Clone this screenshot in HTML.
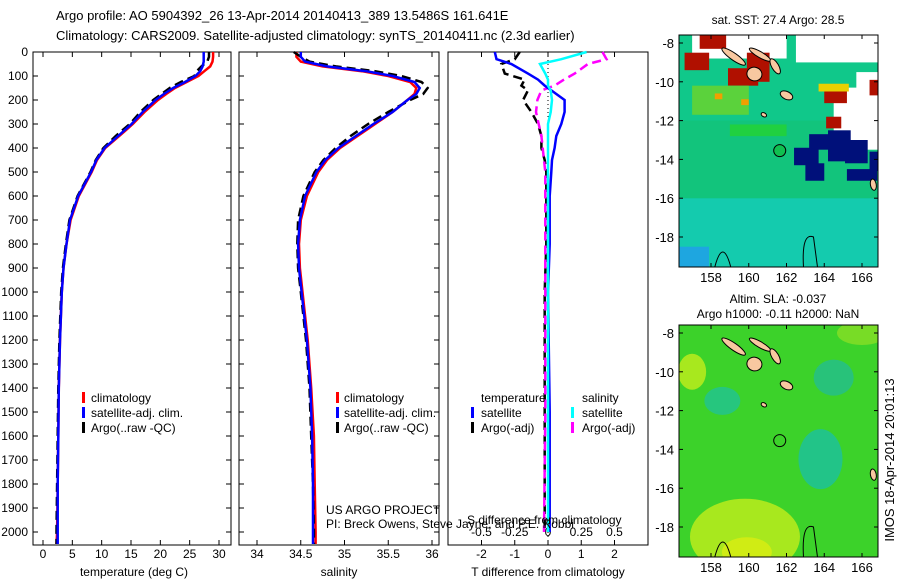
<!DOCTYPE html>
<html><head><meta charset="utf-8"><style>
body{margin:0;background:#fff;}
svg{display:block;font-family:"Liberation Sans",sans-serif;}
text{font-size:12px;fill:#000;}
</style></head><body>
<svg id="fig" width="900" height="580" viewBox="0 0 900 580">
<defs>
<clipPath id="clip35"><rect x="679" y="35" width="199" height="232"/></clipPath>
<clipPath id="clip325"><rect x="679" y="325" width="199" height="232"/></clipPath>
</defs>
<text x="56" y="20" style="font-size:13px">Argo profile: AO 5904392_26 13-Apr-2014 20140413_389 13.5486S 161.641E</text>
<text x="56" y="40" style="font-size:13px">Climatology: CARS2009. Satellite-adjusted climatology: synTS_20140411.nc (2.3d earlier)</text>
<g id="maps"></g>
<g id="plots"></g>
</svg>
<script>
// ---------- data ----------
const depthsTS = [0,20,40,60,80,100,125,150,175,200,250,300,350,400,450,500,600,700,800,900,1000,1200,1400,1600,1800,2000,2050];
const climT = [29.0,29.0,28.9,28.5,27.5,26.5,24.5,22.5,21.0,19.6,17.3,15.3,13.0,10.6,9.2,8.3,6.1,4.7,4.0,3.5,3.2,2.9,2.7,2.6,2.5,2.4,2.3];
const satT  = [27.4,27.4,27.4,27.2,26.8,26.0,24.2,22.2,20.6,19.2,17.0,15.1,12.8,10.5,9.1,8.2,6.0,4.6,4.0,3.5,3.2,2.9,2.7,2.6,2.5,2.5,2.5];
const argoT = [28.3,28.3,28.0,27.0,26.2,25.8,23.5,21.6,20.2,18.8,16.6,14.8,12.4,10.3,9.0,8.1,5.9,4.5,3.9,3.4,3.1,2.8,2.6,2.5,2.4,2.3,2.3];
const climS = [34.45,34.45,34.5,34.75,35.2,35.5,35.75,35.82,35.8,35.72,35.55,35.35,35.15,34.95,34.8,34.7,34.57,34.5,34.48,34.49,34.52,34.58,34.62,34.65,34.66,34.67,34.67];
const satS  = [34.5,34.5,34.55,34.8,35.25,35.55,35.8,35.86,35.82,35.72,35.55,35.33,35.13,34.93,34.78,34.68,34.55,34.49,34.47,34.48,34.51,34.57,34.61,34.63,34.64,34.64,34.64];
const argoS = [34.42,34.5,34.6,34.9,35.35,35.65,35.88,35.95,35.9,35.75,35.5,35.27,35.07,34.9,34.76,34.66,34.53,34.47,34.46,34.47,34.5,34.56,34.6,34.62,34.64,34.65,34.65];
const depthsD = [0,30,50,90,115,140,160,200,250,300,350,400,450,500,600,800,1000,1500,2000];
const satTdiff  = [-1.6,-1.55,-1.1,-0.6,-0.3,-0.1,0.1,0.5,0.5,0.4,0.25,0.2,0.12,0.1,0.05,0.05,0.0,0.05,0.05];
const argoTdiff = [-0.85,-1.0,-1.4,-1.3,-0.7,-0.8,-0.6,-0.75,-0.5,-0.3,-0.2,-0.2,-0.1,-0.05,-0.05,-0.05,-0.1,-0.1,-0.1];
const satSdiff  = [0.29,0.1,-0.06,-0.02,0.0,0.0,0.02,0.03,0.02,0.0,0.0,0.0,0.0,0.0,0.0,0.0,0.0,0.0,0.0];
const argoSdiff = [0.41,0.44,0.3,0.2,0.12,0.05,-0.05,-0.08,-0.09,-0.07,-0.05,-0.04,-0.03,-0.02,-0.02,-0.02,-0.02,-0.02,-0.03];
const depthTicks = [0,100,200,300,400,500,600,700,800,900,1000,1100,1200,1300,1400,1500,1600,1700,1800,1900,2000];
const tTicks = [0,5,10,15,20,25,30];
const sTicks = [34,34.5,35,35.5,36];
const tdTicks = [-2,-1,0,1,2];
const sdTicks = [-0.5,-0.25,0,0.25,0.5];
const lonTicks = [158,160,162,164,166];
const latTicks = [-8,-10,-12,-14,-16,-18];
const argoLon = 161.641, argoLat = -13.5486;

const NS="http://www.w3.org/2000/svg";
function mk(tag,attrs,parent){const e=document.createElementNS(NS,tag);for(const k in attrs)e.setAttribute(k,attrs[k]);parent.appendChild(e);return e;}
const plots=document.getElementById('plots');
const maps=document.getElementById('maps');

const Y0=52, Y1=545, yD=d=>Y0+d*0.24;
function lin(d0,d1,r0,r1){return v=>r0+(v-d0)*(r1-r0)/(d1-d0);}
const xT=lin(0,30,43,219), xS=lin(34,36,257,432), xTd=lin(-2,2,481.5,614.5), xSd=lin(-0.5,0.5,481.5,614.5);

function frame(x0,x1,name){
  const r=mk('rect',{x:x0,y:Y0,width:x1-x0,height:Y1-Y0,fill:'none',stroke:'#000','stroke-width':1},plots);
  
  
  depthTicks.forEach(d=>{const y=yD(d);
    mk('line',{x1:x0,x2:x0+5,y1:y,y2:y,stroke:'#000'},plots);
    mk('line',{x1:x1-5,x2:x1,y1:y,y2:y,stroke:'#000'},plots);});
}
function xticks(ticks,f,labelY,name,top){
  ticks.forEach(t=>{const x=f(t);
    mk('line',{x1:x,x2:x,y1:Y1,y2:Y1-5,stroke:'#000'},plots);
    if(top) mk('line',{x1:x,x2:x,y1:Y0,y2:Y0+5,stroke:'#000'},plots);
    const tx=mk('text',{x:x,y:labelY,'text-anchor':'middle'},plots);tx.textContent=String(t);
    
    });
}
function series(depths,vals,f,color,dash,name){
  const pts=vals.map((v,i)=>f(v).toFixed(1)+','+yD(depths[i]).toFixed(1)).join(' ');
  const p=mk('polyline',{points:pts,fill:'none',stroke:color,'stroke-width':2.5},plots);
  if(dash)p.setAttribute('stroke-dasharray',dash);
  
  
}
function txt(x,y,s,name,extra){const t=mk('text',Object.assign({x:x,y:y},extra||{}),plots);t.textContent=s;
  
  return t;}
function legMark(x,y,c){mk('rect',{x:x,y:y-10,width:3,height:11,fill:c},plots);}

// Panel 1 temperature
frame(33,231,'temperature-panel');
depthTicks.forEach(d=>{txt(28,yD(d)+4,String(d),'depth-tick-label',{'text-anchor':'end'});});
xticks(tTicks,xT,558,'temperature-tick-label',true);
txt(134,576,'temperature (deg C)','temperature-axis-title',{'text-anchor':'middle'});
series(depthsTS,climT,xT,'#f00',null,'temperature-climatology-line');
series(depthsTS,argoT,xT,'#000','9,5','temperature-argo-line');
series(depthsTS,satT,xT,'#00f',null,'temperature-satellite-line');
legMark(82,402,'#f00');txt(91,402,'climatology','legend-climatology');
legMark(82,417,'#00f');txt(91,417,'satellite-adj. clim.','legend-satellite');
legMark(82,432,'#000');txt(91,432,'Argo(..raw -QC)','legend-argo');

// Panel 2 salinity
frame(239,439,'salinity-panel');
xticks(sTicks,xS,558,'salinity-tick-label',true);
txt(339,576,'salinity','salinity-axis-title',{'text-anchor':'middle'});
series(depthsTS,climS,xS,'#f00',null,'salinity-climatology-line');
series(depthsTS,argoS,xS,'#000','9,5','salinity-argo-line');
series(depthsTS,satS,xS,'#00f',null,'salinity-satellite-line');
legMark(336,402,'#f00');txt(344,402,'climatology','legend-climatology-2');
legMark(336,417,'#00f');txt(344,417,'satellite-adj. clim.','legend-satellite-2');
legMark(336,432,'#000');txt(344,432,'Argo(..raw -QC)','legend-argo-2');

// Panel 3 differences
const dp=mk('rect',{x:448,y:Y0,width:200,height:Y1-Y0,fill:'none',stroke:'#000'},plots);


tdTicks.forEach(t=>{const x=xTd(t);mk('line',{x1:x,x2:x,y1:Y1,y2:Y1-5,stroke:'#000'},plots);mk('line',{x1:x,x2:x,y1:Y0,y2:Y0+5,stroke:'#000'},plots);
  txt(x,558,String(t),'t-diff-tick-label',{'text-anchor':'middle'});});
sdTicks.forEach(t=>{txt(xSd(t),536,String(t),'s-diff-tick-label',{'text-anchor':'middle'});});
mk('line',{x1:548,x2:548,y1:Y0,y2:Y1,stroke:'#000','stroke-dasharray':'1,3'},plots);
txt(548,576,'T difference from climatology','t-diff-axis-title',{'text-anchor':'middle'});
series(depthsD,argoTdiff,xTd,'#000','9,5','t-diff-argo-line');
series(depthsD,argoSdiff,xSd,'#f0f','9,5','s-diff-argo-line');
series(depthsD,satTdiff,xTd,'#00f',null,'t-diff-satellite-line');
series(depthsD,satSdiff,xSd,'#0ff',null,'s-diff-satellite-line');
txt(481,402,'temperature','legend-temperature-header');
txt(582,402,'salinity','legend-salinity-header');
legMark(471,417,'#00f');txt(481,417,'satellite','legend-t-satellite');
legMark(471,432,'#000');txt(481,432,'Argo(-adj)','legend-t-argo');
legMark(571,417,'#0ff');txt(582,417,'satellite','legend-s-satellite');
legMark(571,432,'#f0f');txt(582,432,'Argo(-adj)','legend-s-argo');
txt(467,524,'S difference from climatology','s-diff-axis-title');
txt(326,514,'US ARGO PROJECT','credit-project');
txt(326,528,'PI: Breck Owens, Steve Jayne, and P.E. Robbi','credit-pi');

// ---------- maps ----------
function mapBox(y0,name,fillMarker,extra){
  const X0=679,X1=878,H=232;
  const g=mk('g',{},maps);
  
  
  const inner=mk('g',{'clip-path':`url(#clip${y0})`},g);
  const lx=lin(158,166,711,862), ly=l=>y0+8+(-8-l)*19.4;
  extra(inner,lx,ly,X0,X1,y0,H);
  [[159.2,-8.7,1.5,0.18,35],[160.6,-8.6,1.3,0.15,30],[161.4,-9.2,0.9,0.18,60],[160.3,-9.6,0.8,0.35,15],[162.0,-10.7,0.7,0.2,25],[160.8,-11.7,0.3,0.1,30],[166.6,-15.3,0.6,0.15,80]].forEach(a=>{
    mk('ellipse',{cx:lx(a[0]),cy:ly(a[1]),rx:a[2]*18.9/2,ry:a[3]*19.4,fill:'#f8c8a0',stroke:'#000',transform:`rotate(${a[4]} ${lx(a[0])} ${ly(a[1])})`},inner);});
  mk('path',{d:`M${lx(158.2)},${y0+H} q8,-30 16,0 M${lx(162.9)},${y0+H} q-2,-35 10,-30 q2,15 4,30`,fill:'none',stroke:'#000'},inner);
  mk('rect',{x:X0,y:y0,width:X1-X0,height:H,fill:'none',stroke:'#000'},g);
  lonTicks.forEach(l=>{const x=lx(l);mk('line',{x1:x,x2:x,y1:y0,y2:y0+4,stroke:'#000'},g);mk('line',{x1:x,x2:x,y1:y0+H,y2:y0+H-4,stroke:'#000'},g);
    const t=mk('text',{x:x,y:y0+H+15,'text-anchor':'middle',style:'font-size:13px'},g);t.textContent=String(l);});
  latTicks.forEach(l=>{const y=ly(l);mk('line',{x1:X0,x2:X0+4,y1:y,y2:y,stroke:'#000'},g);mk('line',{x1:X1-4,x2:X1,y1:y,y2:y,stroke:'#000'},g);
    const t=mk('text',{x:674,y:y+5,'text-anchor':'end',style:'font-size:13px'},g);t.textContent=String(l);});
  const c=mk('circle',{cx:lx(argoLon),cy:ly(argoLat),r:6,fill:fillMarker,stroke:'#000'},g);
  
  
}
mapBox(35,'sst-map','#10c050',(g,lx,ly,X0,X1,y0,H)=>{
  mk('rect',{x:X0,y:y0,width:X1-X0,height:H,fill:'#10c88a'},g);
  mk('rect',{x:X0,y:ly(-16),width:X1-X0,height:H,fill:'#14cbae'},g);
  mk('rect',{x:X0,y:ly(-12),width:X1-X0,height:ly(-16)-ly(-12),fill:'#12c47c'},g);
  mk('rect',{x:X0,y:ly(-18.5),width:30,height:30,fill:'#1ea6e0'},g);
  [[157,-7.5,5,1.3,'#fff'],[162.5,-7.5,4.4,1.5,'#fff'],[164.5,-10.3,2.3,3,'#fff'],[165.7,-9.5,1.3,4,'#fff'],[157.4,-7.5,1.4,0.8,'#b01000'],[156.6,-8.5,1.3,0.9,'#b01000'],[158.9,-9.3,1.6,0.9,'#b01000'],[159.9,-8.5,1.2,1.5,'#b01000'],[164.0,-10.3,1.2,0.8,'#b01000'],[164.1,-11.8,0.8,0.6,'#b01000'],[166.4,-9.9,0.5,0.8,'#b01000'],[163.2,-12.7,1.7,0.8,'#00107a'],[164.2,-12.5,1.2,1.6,'#00107a'],[165.1,-13.0,1.2,1.2,'#00107a'],[166.4,-13.6,0.5,1.0,'#00107a'],[162.4,-13.4,1.3,0.9,'#00107a'],[163.0,-14.2,1.0,0.9,'#00107a'],[165.2,-14.5,1.6,0.6,'#00107a'],[157,-10.2,3,1.5,'#5bd23c'],[158.2,-10.6,0.4,0.3,'#f0a000'],[159.6,-10.9,0.4,0.3,'#f0a000'],[163.7,-10.1,1.6,0.4,'#e8d000'],[159.0,-12.2,3,0.6,'#20d040']].forEach(a=>{
    mk('rect',{x:lx(a[0]),y:ly(a[1]),width:a[2]*18.9,height:a[3]*19.4,fill:a[4]},g);});
});
mapBox(325,'sla-map','none',(g,lx,ly,X0,X1,y0,H)=>{
  mk('rect',{x:X0,y:y0,width:X1-X0,height:H,fill:'#3cd22a'},g);
  mk('ellipse',{cx:lx(159.8),cy:ly(-18.5),rx:55,ry:38,fill:'#a8e81e'},g);
  mk('ellipse',{cx:lx(159.9),cy:ly(-19.3),rx:25,ry:15,fill:'#d0ec14'},g);
  mk('ellipse',{cx:lx(157.0),cy:ly(-10),rx:14,ry:18,fill:'#a8e81e'},g);
  mk('ellipse',{cx:lx(163.8),cy:ly(-14.5),rx:22,ry:30,fill:'#22c488'},g);
  mk('ellipse',{cx:lx(164.5),cy:ly(-10.3),rx:20,ry:18,fill:'#28c27a'},g);
  mk('ellipse',{cx:lx(158.6),cy:ly(-11.5),rx:18,ry:14,fill:'#26c67e'},g);
  mk('ellipse',{cx:lx(166),cy:ly(-8),rx:25,ry:12,fill:'#78dc26'},g);
});
txt(778,24,'sat. SST: 27.4 Argo: 28.5','sst-map-title',{'text-anchor':'middle'});
txt(778,303,'Altim. SLA: -0.037','sla-map-title-1',{'text-anchor':'middle'});
txt(778,318,'Argo h1000: -0.11 h2000: NaN','sla-map-title-2',{'text-anchor':'middle'});
txt(894,460,'IMOS 18-Apr-2014 20:01:13','timestamp',{'text-anchor':'middle',transform:'rotate(-90 894 460)',style:'font-size:13px'});
</script>
</body></html>
